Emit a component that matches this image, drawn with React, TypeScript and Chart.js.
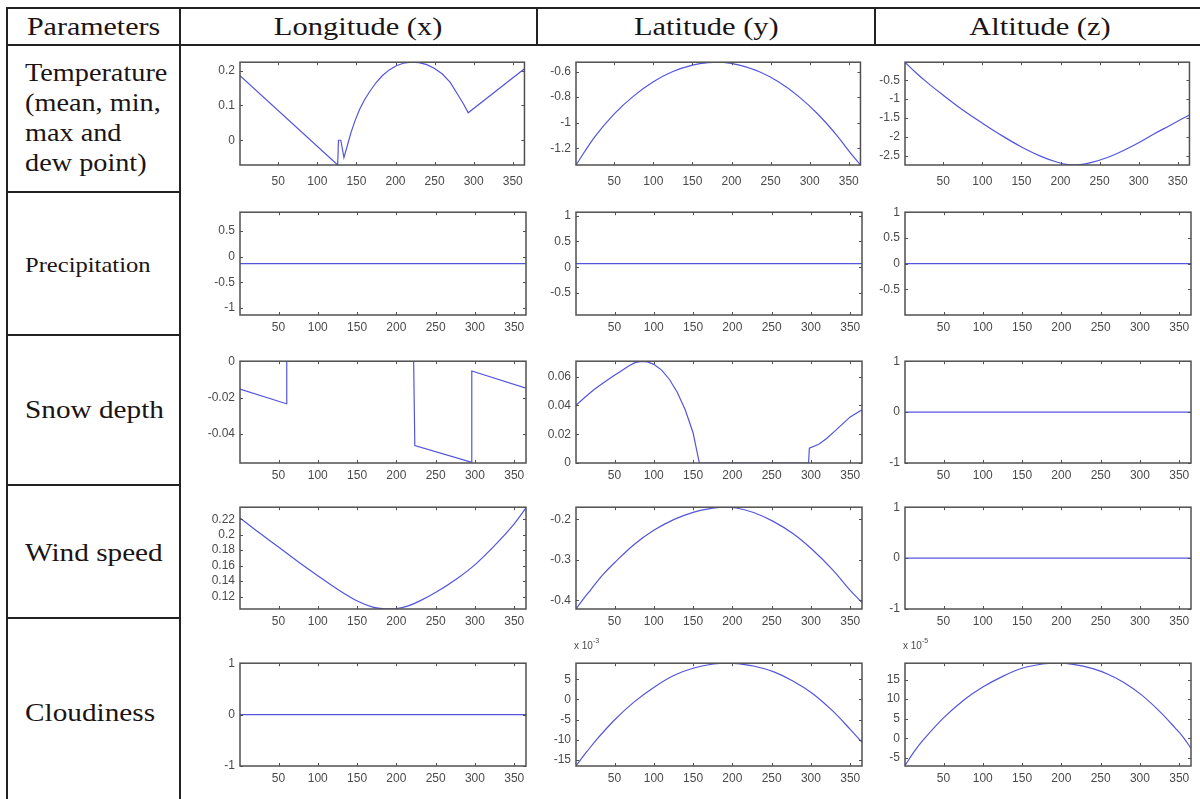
import React, { useEffect, useRef } from "react";
import { Chart, registerables } from "chart.js";
Chart.register(...registerables);

// ---------------- data ----------------
const xTicks = [50, 100, 150, 200, 250, 300, 350];
const xLimits = [1, 365];

const columnTitles = ["Longitude (x)", "Latitude (y)", "Altitude (z)"];
const headerTitle = "Parameters";
const temperatureLines = ["Temperature", "(mean, min,", "max and", "dew point)"];
const otherParameters = ["Precipitation", "Snow depth", "Wind speed", "Cloudiness"];

// Temperature
const tempLonDays = [1, 126, 127, 130, 134, 139, 143, 148, 154, 160, 167, 175, 183, 192, 201, 210, 220, 230, 240, 250, 260, 270, 280, 287, 293, 365];
const tempLonVals = [0.185, -0.071, 0, 0, -0.05, -0.01, 0.022, 0.055, 0.088, 0.115, 0.14, 0.165, 0.185, 0.202, 0.214, 0.221, 0.224, 0.223, 0.217, 0.206, 0.19, 0.166, 0.13, 0.104, 0.079, 0.205];
const tempLonTicks = [0, 0.1, 0.2];
const tempLonLimits = [-0.071, 0.224];

const tempLatDays = [1, 25, 50, 75, 100, 125, 150, 170, 190, 210, 235, 260, 285, 310, 335, 350, 365];
const tempLatVals = [-1.33, -1.11, -0.93, -0.79, -0.68, -0.6, -0.55, -0.53, -0.528, -0.55, -0.6, -0.68, -0.79, -0.93, -1.1, -1.22, -1.33];
const tempLatTicks = [-1.2, -1, -0.8, -0.6];
const tempLatLimits = [-1.33, -0.527];

const tempAltDays = [1, 15, 30, 50, 75, 100, 125, 150, 175, 195, 210, 225, 240, 260, 280, 300, 320, 340, 355, 365];
const tempAltVals = [-0.02, -0.3, -0.57, -0.9, -1.29, -1.64, -1.97, -2.27, -2.52, -2.67, -2.74, -2.74, -2.68, -2.55, -2.37, -2.16, -1.92, -1.7, -1.53, -1.42];
const tempAltTicks = [-2.5, -2, -1.5, -1, -0.5];
const tempAltLimits = [-2.75, -0.02];

// Precipitation
const precLonDays = [1, 365];
const precLonVals = [-0.137, -0.137];
const precLonTicks = [-1, -0.5, 0, 0.5];
const precLonLimits = [-1.137, 0.863];

const precLatDays = [1, 365];
const precLatVals = [0.07, 0.07];
const precLatTicks = [-0.5, 0, 0.5, 1];
const precLatLimits = [-0.93, 1.07];

const precAltDays = [1, 365];
const precAltVals = [0, 0];
const precAltTicks = [-0.5, 0, 0.5, 1];
const precAltLimits = [-1, 1];

// Snow depth
const snowLonDays = [1, 60, 60.5, 222, 223.5, 295, 296, 365];
const snowLonVals = [-0.0153, -0.0233, 0, 0, -0.0463, -0.0553, -0.0054, -0.0148];
const snowLonTicks = [-0.04, -0.02, 0];
const snowLonLimits = [-0.0558, 0];

const snowLatDays = [1, 12, 24, 36, 48, 58, 68, 76, 84, 92, 100, 110, 120, 130, 140, 150, 158, 297, 298, 310, 320, 330, 340, 350, 365];
const snowLatVals = [0.04, 0.0455, 0.051, 0.0558, 0.0603, 0.0638, 0.0674, 0.0697, 0.0706, 0.0702, 0.0685, 0.0645, 0.058, 0.049, 0.037, 0.021, 0, 0, 0.0103, 0.013, 0.017, 0.022, 0.027, 0.032, 0.037];
const snowLatTicks = [0, 0.02, 0.04, 0.06];
const snowLatLimits = [0, 0.0707];

const snowAltDays = [1, 365];
const snowAltVals = [0, 0];
const snowAltTicks = [-1, 0, 1];
const snowAltLimits = [-1, 1];

// Wind speed
const windLonDays = [1, 15, 29, 50, 75, 100, 126, 151, 170, 185, 200, 215, 230, 252, 277, 302, 328, 350, 365];
const windLonVals = [0.2216, 0.2106, 0.1998, 0.184, 0.165, 0.147, 0.129, 0.114, 0.1065, 0.1042, 0.1045, 0.108, 0.1145, 0.1265, 0.143, 0.163, 0.189, 0.214, 0.2345];
const windLonTicks = [0.12, 0.14, 0.16, 0.18, 0.2, 0.22];
const windLonLimits = [0.104, 0.2355];

const windLatDays = [1, 10, 20, 35, 50, 75, 100, 126, 151, 170, 188, 205, 227, 252, 277, 302, 328, 350, 365];
const windLatVals = [-0.421, -0.397, -0.373, -0.337, -0.307, -0.262, -0.227, -0.2, -0.182, -0.174, -0.17, -0.172, -0.183, -0.205, -0.235, -0.275, -0.325, -0.375, -0.405];
const windLatTicks = [-0.4, -0.3, -0.2];
const windLatLimits = [-0.421, -0.17];

const windAltDays = [1, 365];
const windAltVals = [0, 0];
const windAltTicks = [-1, 0, 1];
const windAltLimits = [-1, 1];

// Cloudiness
const cloudLonDays = [1, 365];
const cloudLonVals = [0, 0];
const cloudLonTicks = [-1, 0, 1];
const cloudLonLimits = [-1, 1];

// values in units of 10^-3
const cloudLatDays = [1, 15, 27, 50, 75, 100, 126, 151, 176, 195, 210, 227, 252, 277, 302, 328, 350, 365];
const cloudLatVals = [-16.4, -12.9, -10.0, -5.1, -0.6, 3.0, 6.0, 7.8, 8.8, 9.0, 8.8, 8.3, 6.9, 4.6, 1.5, -2.9, -7.4, -10.6];
const cloudLatTicks = [-15, -10, -5, 0, 5];
const cloudLatLimits = [-16.5, 9.0];

// values in units of 10^-5
const cloudAltDays = [1, 12, 24, 50, 76, 100, 126, 150, 176, 195, 215, 240, 260, 280, 302, 326, 345, 355, 365];
const cloudAltVals = [-7.0, -3.6, -0.5, 5.2, 9.8, 13.1, 15.9, 17.9, 19.0, 19.2, 18.9, 17.8, 16.3, 14.2, 11.1, 6.7, 2.6, 0.3, -2.6];
const cloudAltTicks = [-5, 0, 5, 10, 15];
const cloudAltLimits = [-7.1, 19.2];

// ---------------- layout ----------------
const COL_LEFT = [240, 576, 905];
const BOX_W = 286;
const ROW_TOP = [54, 204, 353, 499, 655];
const ROW_H = [111, 111, 110, 110, 111];
const ROW_XPAD = [9, 5, 5, 5, 5];
const PAD_L = 48, PAD_T = 4, PAD_R = 6, PAD_B = 28;
const LINE_COLOR = "#5454dc";
const AXIS_COLOR = "#505050";
const TEXT_COLOR = "#4a4a4a";
const RULE = "#222";

type Spec = { days: number[]; vals: number[]; ticks: number[]; lim: number[]; smooth?: boolean; exp?: string };

const rows: Spec[][] = [
  [
    { days: tempLonDays, vals: tempLonVals, ticks: tempLonTicks, lim: tempLonLimits },
    { days: tempLatDays, vals: tempLatVals, ticks: tempLatTicks, lim: tempLatLimits, smooth: true },
    { days: tempAltDays, vals: tempAltVals, ticks: tempAltTicks, lim: tempAltLimits, smooth: true },
  ],
  [
    { days: precLonDays, vals: precLonVals, ticks: precLonTicks, lim: precLonLimits },
    { days: precLatDays, vals: precLatVals, ticks: precLatTicks, lim: precLatLimits },
    { days: precAltDays, vals: precAltVals, ticks: precAltTicks, lim: precAltLimits },
  ],
  [
    { days: snowLonDays, vals: snowLonVals, ticks: snowLonTicks, lim: snowLonLimits },
    { days: snowLatDays, vals: snowLatVals, ticks: snowLatTicks, lim: snowLatLimits },
    { days: snowAltDays, vals: snowAltVals, ticks: snowAltTicks, lim: snowAltLimits },
  ],
  [
    { days: windLonDays, vals: windLonVals, ticks: windLonTicks, lim: windLonLimits, smooth: true },
    { days: windLatDays, vals: windLatVals, ticks: windLatTicks, lim: windLatLimits, smooth: true },
    { days: windAltDays, vals: windAltVals, ticks: windAltTicks, lim: windAltLimits },
  ],
  [
    { days: cloudLonDays, vals: cloudLonVals, ticks: cloudLonTicks, lim: cloudLonLimits },
    { days: cloudLatDays, vals: cloudLatVals, ticks: cloudLatTicks, lim: cloudLatLimits, smooth: true, exp: "-3" },
    { days: cloudAltDays, vals: cloudAltVals, ticks: cloudAltTicks, lim: cloudAltLimits, smooth: true, exp: "-5" },
  ],
];

const fmt = (v: number) => String(Number(Number(v).toPrecision(6)));

const boxPlugin = {
  id: "matlabBox",
  afterDatasetsDraw(chart: any) {
    const { ctx, chartArea: a, scales } = chart;
    ctx.save();
    ctx.strokeStyle = AXIS_COLOR;
    ctx.lineWidth = 1;
    const tl = 3;
    ctx.beginPath();
    scales.x.ticks.forEach((t: any) => {
      const p = Math.round(scales.x.getPixelForValue(t.value)) + 0.5;
      ctx.moveTo(p, a.bottom);
      ctx.lineTo(p, a.bottom - tl);
      ctx.moveTo(p, a.top);
      ctx.lineTo(p, a.top + tl);
    });
    scales.y.ticks.forEach((t: any) => {
      const p = Math.round(scales.y.getPixelForValue(t.value)) + 0.5;
      ctx.moveTo(a.left, p);
      ctx.lineTo(a.left + tl, p);
      ctx.moveTo(a.right, p);
      ctx.lineTo(a.right - tl, p);
    });
    ctx.stroke();
    ctx.lineWidth = 1.5;
    ctx.strokeRect(a.left, a.top, a.right - a.left, a.bottom - a.top);
    ctx.restore();
  },
};

function Panel({ x, y, w, h, xpad, spec }: { x: number; y: number; w: number; h: number; xpad: number; spec: Spec }) {
  const ref = useRef<HTMLCanvasElement>(null);
  useEffect(() => {
    const font = { family: "'Liberation Sans', Arial, sans-serif", size: 12 };
    const chart = new Chart(ref.current as HTMLCanvasElement, {
      type: "scatter",
      data: {
        datasets: [
          {
            data: spec.days.map((d, i) => ({ x: d, y: spec.vals[i] })),
            showLine: true,
            borderColor: LINE_COLOR,
            borderWidth: 1.2,
            pointRadius: 0,
            tension: spec.smooth ? 0.35 : 0,
            fill: false,
          },
        ],
      },
      options: {
        animation: false,
        responsive: false,
        devicePixelRatio: 1,
        layout: { padding: { left: 0, top: PAD_T, right: PAD_R, bottom: 0 } },
        plugins: { legend: { display: false }, tooltip: { enabled: false } },
        scales: {
          x: {
            type: "linear",
            min: xLimits[0],
            max: xLimits[1],
            afterBuildTicks: (s: any) => {
              s.ticks = xTicks.map((v) => ({ value: v }));
            },
            afterFit: (s: any) => {
              s.height = PAD_B;
            },
            grid: { display: false, drawTicks: false },
            border: { display: false },
            ticks: { font, color: TEXT_COLOR, padding: xpad, maxRotation: 0, autoSkip: false, callback: (v: any) => fmt(v) },
          },
          y: {
            type: "linear",
            min: spec.lim[0],
            max: spec.lim[1],
            afterBuildTicks: (s: any) => {
              s.ticks = spec.ticks.map((v) => ({ value: v }));
            },
            afterFit: (s: any) => {
              s.width = PAD_L;
            },
            grid: { display: false, drawTicks: false },
            border: { display: false },
            ticks: { font, color: TEXT_COLOR, padding: 5, autoSkip: false, callback: (v: any) => fmt(v) },
          },
        },
      } as any,
      plugins: [boxPlugin],
    });
    return () => chart.destroy();
  }, []);
  const cw = w + PAD_L + PAD_R;
  const ch = h + PAD_T + PAD_B;
  return (
    <>
      <canvas
        ref={ref}
        width={cw}
        height={ch}
        style={{ position: "absolute", left: x - PAD_L, top: y - PAD_T, width: cw, height: ch }}
      />
      {spec.exp && (
        <div
          style={{
            position: "absolute",
            left: x - 2,
            top: y - 15,
            font: "10px 'Liberation Sans', Arial, sans-serif",
            color: TEXT_COLOR,
            whiteSpace: "nowrap",
          }}
        >
          x 10<sup style={{ fontSize: 7, verticalAlign: "top", position: "relative", top: -3 }}>{spec.exp}</sup>
        </div>
      )}
    </>
  );
}

const serif = "'Liberation Serif', 'Times New Roman', serif";
const INK = "#1c1414";

function Stretch({ children, size, sx = 1.17 }: { children: any; size: number; sx?: number }) {
  return (
    <span style={{ display: "inline-block", fontFamily: serif, fontSize: size, transform: `scaleX(${sx})`, transformOrigin: "left center", whiteSpace: "nowrap" }}>
      {children}
    </span>
  );
}

function HLine({ x1, x2, y }: { x1: number; x2: number; y: number }) {
  return <div style={{ position: "absolute", left: x1, top: y - 1, width: x2 - x1, height: 2, background: RULE }} />;
}
function VLine({ x, y1, y2 }: { x: number; y1: number; y2: number }) {
  return <div style={{ position: "absolute", left: x - 1, top: y1, width: 2, height: y2 - y1, background: RULE }} />;
}

function CenterText({ x1, x2, cy, size, text, sx }: { x1: number; x2: number; cy: number; size: number; text: string; sx: number }) {
  return (
    <div style={{ position: "absolute", left: x1, width: x2 - x1, top: cy - 20, height: 40, display: "flex", alignItems: "center", justifyContent: "center", color: INK }}>
      <span style={{ display: "inline-block", fontFamily: serif, fontSize: size, transform: `scaleX(${sx})`, whiteSpace: "nowrap" }}>{text}</span>
    </div>
  );
}

export default function App() {
  const rowLines = [192, 335, 485, 618];
  const labelCenters = [265, 410, 553, 713];
  const labelSizes = [21, 25, 25, 25];
  return (
    <div style={{ position: "absolute", left: 0, top: 0, width: 1200, height: 799, background: "#fff", overflow: "hidden" }}>
      {/* table rules */}
      <HLine x1={6} x2={1200} y={8} />
      <HLine x1={6} x2={1200} y={45} />
      <VLine x={7} y1={7} y2={799} />
      <VLine x={180} y1={7} y2={799} />
      <VLine x={537} y1={7} y2={46} />
      <VLine x={875} y1={7} y2={46} />
      {rowLines.map((y) => (
        <HLine key={y} x1={6} x2={181} y={y} />
      ))}
      {/* header */}
      <CenterText x1={7} x2={180} cy={27} size={25} sx={1.2} text={headerTitle} />
      <CenterText x1={180} x2={537} cy={27} size={25} sx={1.22} text={columnTitles[0]} />
      <CenterText x1={537} x2={875} cy={27} size={25} sx={1.22} text={columnTitles[1]} />
      <CenterText x1={875} x2={1205} cy={27} size={25} sx={1.22} text={columnTitles[2]} />
      {/* parameter labels */}
      <div style={{ position: "absolute", left: 25, top: 58, lineHeight: "30px", color: INK }}>
        {temperatureLines.map((t) => (
          <div key={t} style={{ height: 30 }}>
            <Stretch size={25} sx={1.13}>{t}</Stretch>
          </div>
        ))}
      </div>
      {otherParameters.map((t, i) => (
        <div key={t} style={{ position: "absolute", left: 25, top: labelCenters[i] - 15, height: 30, lineHeight: "30px", color: INK }}>
          <Stretch size={labelSizes[i]}>{t}</Stretch>
        </div>
      ))}
      {/* plots */}
      {rows.map((r, ri) =>
        r.map((spec, ci) => (
          <Panel key={`${ri}-${ci}`} x={COL_LEFT[ci]} y={ROW_TOP[ri]} w={BOX_W} h={ROW_H[ri]} xpad={ROW_XPAD[ri]} spec={spec} />
        ))
      )}
    </div>
  );
}
